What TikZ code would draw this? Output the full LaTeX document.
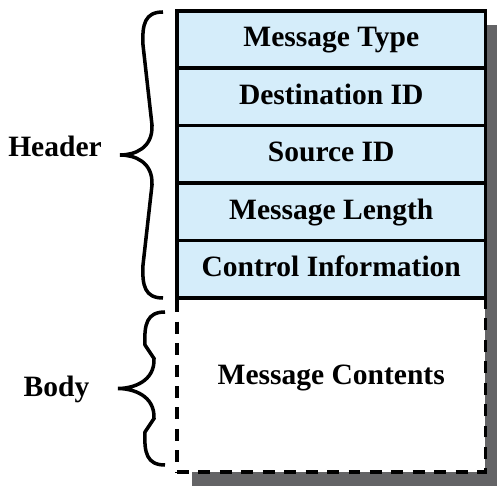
\documentclass[tikz,border=0pt]{standalone}
\usepackage{fontspec}
\setmainfont{Liberation Serif}
\usepackage{tikz}
\usetikzlibrary{positioning}

\definecolor{fieldblue}{RGB}{213,237,250}
\definecolor{shadowgray}{RGB}{100,100,102}

\begin{document}
\begin{tikzpicture}
	[x=0.02cm, y=-0.02cm,
	field/.style={draw=black, fill=fieldblue, line width=2.2pt, outer sep=0pt,
		minimum width=6.17cm, minimum height=1.15cm, text height=0.86em, text depth=0pt,
		font=\fontsize{16.8}{20}\selectfont\bfseries},
	bodybox/.style={field, fill=white, dash pattern=on 6.8pt off 5.4pt,
		minimum height=3.48cm, text depth=0.9em},
	part/.style={anchor=base, font=\fontsize{16.8}{20}\selectfont\bfseries},
	curly/.style={line width=2pt}]

	\useasboundingbox (0,0) rectangle (497,486);

	% drop shadow behind the stack
	\fill[shadowgray] (192,25) rectangle (497,486);

	% stack is built from the bottom up
	\node[bodybox] (contents) at (331.25,385) {Message Contents};
	\node[field, above=0pt of contents] (ctrl) {Control Information};
	\node[field, above=0pt of ctrl] (len) {Message Length};
	\node[field, above=0pt of len] (src) {Source ID};
	\node[field, above=0pt of src] (dest) {Destination ID};
	\node[field, above=0pt of dest] (type) {Message Type};

	% braces
	\foreach \ytop/\ybot/\xend/\xtip in {12/298/163/120, 312/465/165/118} {
		\pgfmathsetmacro\ymid{(\ytop+\ybot)/2}
		\draw[curly] (\xend,\ytop) .. controls ({\xend-18},\ytop) and ({\xend-21},{\ytop+12}) .. ({\xend-20},{\ytop+33})
			-- ({\xend-11},{\ymid-30}) .. controls ({\xend-10},{\ymid-7}) and ({\xtip+15},\ymid) .. (\xtip,\ymid)
			.. controls ({\xtip+15},\ymid) and ({\xend-10},{\ymid+7}) .. ({\xend-11},{\ymid+30})
			-- ({\xend-20},{\ybot-33}) .. controls ({\xend-21},{\ybot-12}) and ({\xend-18},\ybot) .. (\xend,\ybot);
	}
	\node[part] (header) at (55,157) {Header};
	\node[part] (body) at (56.5,396) {Body};
\end{tikzpicture}
\end{document}
